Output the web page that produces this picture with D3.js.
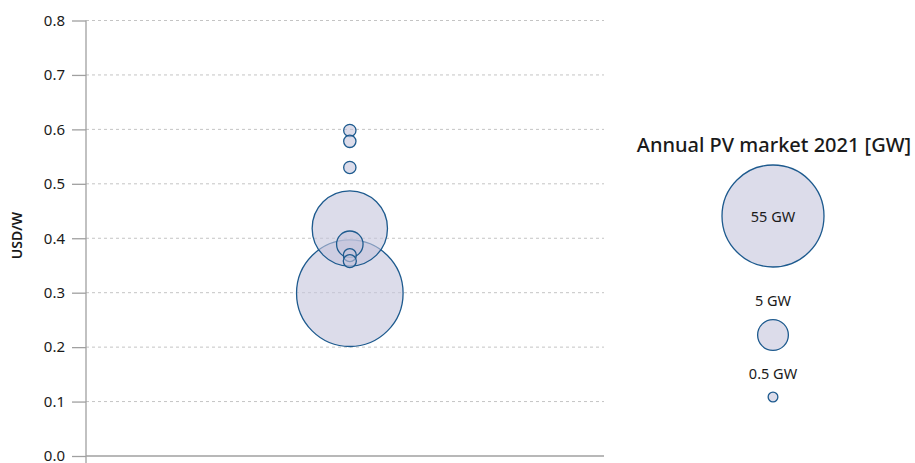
<!DOCTYPE html>
<html><head><meta charset="utf-8">
<script src="https://cdn.jsdelivr.net/npm/d3@7"></script>
<style>
body{margin:0;background:#fff;}
text{font-family:"Noto Sans","Open Sans",sans-serif;fill:#1a1a1a;}
</style></head>
<body>
<svg id="chart" width="915" height="463"></svg>
<script>
const prices = [0.598, 0.578, 0.53, 0.418, 0.389, 0.369, 0.358, 0.299];
const marketGW = [0.8, 0.8, 0.8, 30, 3.7, 0.9, 0.9, 60];
const yTicks = [0, 0.1, 0.2, 0.3, 0.4, 0.5, 0.6, 0.7, 0.8];
const legendGW = [55, 5, 0.5];
const legendLabels = ["55 GW", "5 GW", "0.5 GW"];
const yLabel = "USD/W";
const legendTitle = "Annual PV market 2021 [GW]";

const svg = d3.select("#chart");
const pLeft = 86, pRight = 604, pTop = 20.5, pBottom = 456;
const y = d3.scaleLinear().domain([0, 0.8]).range([pBottom, pTop]);
const x = d3.scaleLinear().domain([0, 1]).range([pLeft, pRight]);
const r = d3.scaleSqrt().domain([0, 55]).range([0, 51]);

const fill = "#c4c4dc", stroke = "#1d5a8e";

// gridlines
svg.append("g").selectAll("line").data(yTicks.filter(d => d > 0)).join("line")
  .attr("x1", pLeft).attr("x2", pRight)
  .attr("y1", d => y(d)).attr("y2", d => y(d))
  .attr("stroke", "#c4c4c4").attr("stroke-width", 1).attr("stroke-dasharray", "3,3");

// y axis
const yAxis = d3.axisLeft(y).tickValues(yTicks).tickFormat(d3.format(".1f")).tickSize(14).tickPadding(7);
const gy = svg.append("g").attr("transform", `translate(${pLeft},0)`).call(yAxis);
gy.select(".domain").remove();
gy.selectAll(".tick line").attr("stroke", "#a0a0a0").attr("stroke-width", 1.3);
gy.selectAll(".tick text").style("font-size", "15px").style("font-family", '"Noto Sans","Open Sans",sans-serif').attr("fill", "#1a1a1a");
svg.append("line").attr("x1", pLeft).attr("x2", pLeft).attr("y1", pTop).attr("y2", 463)
  .attr("stroke", "#a0a0a0").attr("stroke-width", 1.3);
svg.append("line").attr("x1", pLeft).attr("x2", pRight).attr("y1", pBottom).attr("y2", pBottom)
  .attr("stroke", "#a0a0a0").attr("stroke-width", 1.3);

// y label
svg.append("text").attr("transform", `translate(22,${(y(0.405))}) rotate(-90)`)
  .attr("text-anchor", "middle").style("font-size", "14px").style("font-weight", "600").text(yLabel);

// bubbles
const data = prices.map((p, i) => ({p, g: marketGW[i]})).sort((a, b) => b.g - a.g);
svg.append("g").selectAll("circle").data(data).join("circle")
  .attr("cx", x(0.5093)).attr("cy", d => y(d.p)).attr("r", d => r(d.g))
  .attr("fill", fill).attr("fill-opacity", 0.6)
  .attr("stroke", stroke).attr("stroke-width", 1.3);

// legend
const lx = 774;
svg.append("text").attr("x", lx).attr("y", 152).attr("text-anchor", "middle")
  .style("font-size", "20px").style("font-weight", "500").text(legendTitle);
const legCy = [216, 335, 397];
const lg = svg.append("g");
lg.selectAll("circle").data(legendGW).join("circle")
  .attr("cx", 773).attr("cy", (d, i) => legCy[i]).attr("r", d => r(d))
  .attr("fill", fill).attr("fill-opacity", 0.6)
  .attr("stroke", stroke).attr("stroke-width", 1.3);
const labY = [222, 306, 379];
lg.selectAll("text").data(legendLabels).join("text")
  .attr("x", 773).attr("y", (d, i) => labY[i]).attr("text-anchor", "middle")
  .style("font-size", "14.5px").text(d => d);
</script>
</body></html>
